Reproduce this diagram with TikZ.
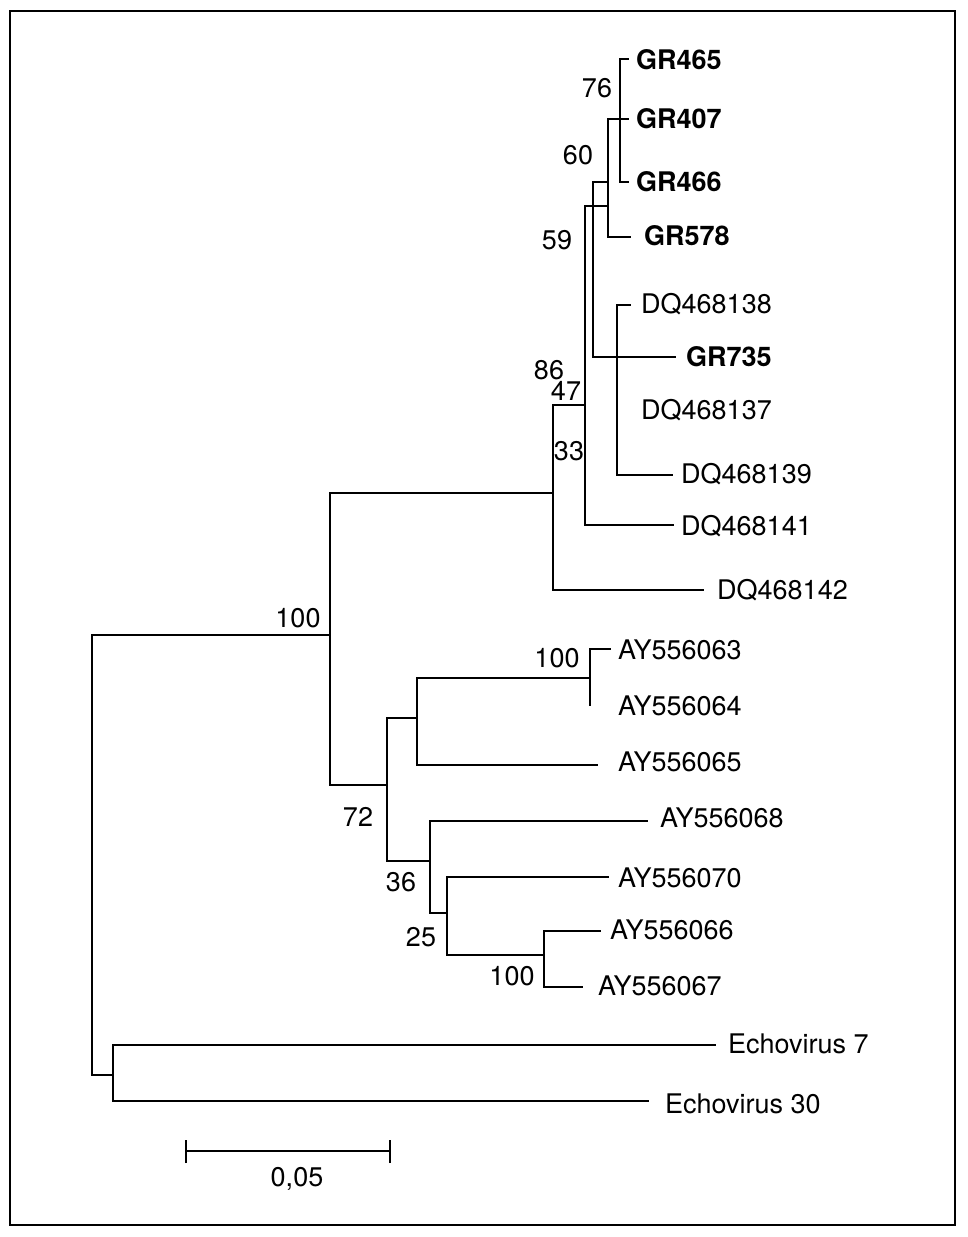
\documentclass[tikz,border=0pt]{standalone}
\usepackage{fontspec}
\setmainfont{TeX Gyre Heros}
\begin{document}
\begin{tikzpicture}[x=1pt,y=-1pt,
  br/.style={line width=2pt,line cap=rect},
  leaf/.style={anchor=base west,inner sep=0pt,font=\fontsize{27}{30}\selectfont},
  gleaf/.style={leaf,font=\fontsize{27}{30}\selectfont\bfseries},
  boot/.style={anchor=base,inner sep=0pt,font=\fontsize{27}{30}\selectfont}]
\useasboundingbox (0,0) rectangle (968,1237);
\draw[line width=2.6pt] (10,11) rectangle (955,1225);
% internal node tops/bottoms
\coordinate (rt) at (92,635);  \coordinate (rb) at (92,1075);
\coordinate (et) at (113,1045); \coordinate (eb) at (113,1101);
\coordinate (at) at (330,493); \coordinate (ab) at (330,785);
\coordinate (bt) at (553,405); \coordinate (bb) at (553,590);
\coordinate (ct) at (585,206); \coordinate (cb) at (585,525);
\coordinate (dt) at (593,182); \coordinate (db) at (593,357);
\coordinate (qt) at (608,119); \coordinate (qb) at (608,237);
\coordinate (ft) at (620,59);  \coordinate (fb) at (620,182);
\coordinate (gt) at (617,305); \coordinate (gb) at (617,475);
\coordinate (ht) at (387,718); \coordinate (hb) at (387,861);
\coordinate (it) at (417,678); \coordinate (ib) at (417,765);
\coordinate (jt) at (590,649); \coordinate (jb) at (590,705);
\coordinate (kt) at (430,821); \coordinate (kb) at (430,913);
\coordinate (lt) at (447,877); \coordinate (lb) at (447,955);
\coordinate (mt) at (544,931); \coordinate (mb) at (544,987);
% leaf tips
\coordinate (t465) at (628,59);
\coordinate (t407) at (628,119);
\coordinate (t466) at (628,182);
\coordinate (t578) at (630,237);
\coordinate (t138) at (630,305);
\coordinate (t735) at (675,357);
\coordinate (t139) at (672,475);
\coordinate (t141) at (673,525);
\coordinate (t142) at (703,590);
\coordinate (t063) at (610,649);
\coordinate (t065) at (597,765);
\coordinate (t068) at (647,821);
\coordinate (t070) at (608,877);
\coordinate (t066) at (600,931);
\coordinate (t067) at (582,987);
\coordinate (te7) at (715,1045);
\coordinate (te30) at (648,1101);
% verticals
\foreach \n in {r,e,a,b,c,d,q,f,g,h,i,j,k,l,m}
  \draw[br] (\n t) -- (\n b);
% horizontals
\draw[br] (rt) -- (rt -| at);
\draw[br] (rb) -- (rb -| et);
\draw[br] (et) -- (te7);
\draw[br] (eb) -- (te30);
\draw[br] (at) -- (at -| bt);
\draw[br] (ab) -- (ab -| ht);
\draw[br] (bt) -- (bt -| ct);
\draw[br] (bb) -- (t142);
\draw[br] (ct) -- (ct -| qt);
\draw[br] (cb) -- (t141);
\draw[br] (dt) -- (dt -| qt);
\draw[br] (db) -- (t735);
\draw[br] (qt) -- (t407);
\draw[br] (qb) -- (t578);
\draw[br] (ft) -- (t465);
\draw[br] (fb) -- (t466);
\draw[br] (gt) -- (t138);
\draw[br] (gb) -- (t139);
\draw[br] (ht) -- (ht -| it);
\draw[br] (hb) -- (hb -| kt);
\draw[br] (it) -- (it -| jt);
\draw[br] (ib) -- (t065);
\draw[br] (jt) -- (t063);
\draw[br] (kt) -- (t068);
\draw[br] (kb) -- (kb -| lt);
\draw[br] (lt) -- (t070);
\draw[br] (lb) -- (lb -| mt);
\draw[br] (mt) -- (t066);
\draw[br] (mb) -- (t067);
% leaf labels
\node[gleaf] (l465) at (636,69.7) {GR465};
\node[gleaf] (l407) at (636,128.7) {GR407};
\node[gleaf] (l466) at (636,191.7) {GR466};
\node[gleaf] (l578) at (644,245.7) {GR578};
\node[leaf] (l138) at (641,313.7) {DQ468138};
\node[gleaf] (l735) at (686,366.7) {GR735};
\node[leaf] (l137) at (641,419.7) {DQ468137};
\node[leaf] (l139) at (681,483.7) {DQ468139};
\node[leaf] (l141) at (681,535.7) {DQ468141};
\node[leaf] (l142) at (717,599.7) {DQ468142};
\node[leaf] (l063) at (618,659.7) {AY556063};
\node[leaf] (l064) at (618,715.7) {AY556064};
\node[leaf] (l065) at (618,771.7) {AY556065};
\node[leaf] (l068) at (660,827.7) {AY556068};
\node[leaf] (l070) at (618,887.7) {AY556070};
\node[leaf] (l066) at (610,939.7) {AY556066};
\node[leaf] (l067) at (598,995.7) {AY556067};
\node[leaf] (le7) at (728,1053.7) {Echovirus 7};
\node[leaf] (le30) at (665,1113.7) {Echovirus 30};
% bootstrap values
\node[boot] (b76) at (597,97.7) {76};
\node[boot] (b60) at (578,164.7) {60};
\node[boot] (b59) at (557,249.7) {59};
\node[boot] (b86) at (549,379.7) {86};
\node[boot] (b47) at (566,400.7) {47};
\node[boot] (b33) at (569,460.7) {33};
\node[boot] (b100a) at (298,627.7) {100};
\node[boot] (b100b) at (557,667.7) {100};
\node[boot] (b72) at (358,826.7) {72};
\node[boot] (b36) at (401,891.7) {36};
\node[boot] (b25) at (421,946.7) {25};
\node[boot] (b100c) at (512,985.7) {100};
% scale bar
\coordinate (sa) at (186,1151);
\coordinate (sb) at (390,1151);
\draw[line width=2pt] (sa) -- (sb);
\draw[line width=2pt] ([yshift=-12pt]sa) -- ([yshift=11pt]sa);
\draw[line width=2pt] ([yshift=-12pt]sb) -- ([yshift=11pt]sb);
\node[boot] (sl) at (297,1186.7) {0,05};
\end{tikzpicture}
\end{document}
